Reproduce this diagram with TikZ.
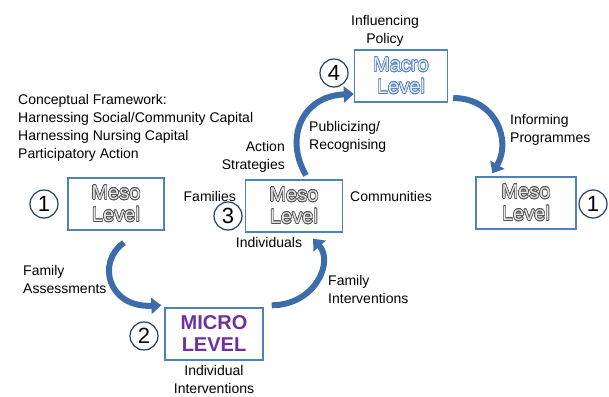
\documentclass[tikz,border=0pt]{standalone}
\usepackage{fontspec}
\setmainfont{Liberation Sans}
\usepackage[copies]{contour}
\usetikzlibrary{arrows.meta,calc}
\definecolor{boxblue}{HTML}{4F81BD}
\definecolor{arrowblue}{HTML}{3C6DAA}
\definecolor{circblue}{HTML}{243F60}
\definecolor{microp}{HTML}{7030A0}
\definecolor{mesogray}{HTML}{505050}
\definecolor{macroblue}{HTML}{4F7FBF}
\newcommand{\mesotxt}[1]{\contourlength{0.6pt}\contour{mesogray}{\textcolor{white!80!gray}{#1}}}
\newcommand{\macrotxt}[1]{\contourlength{0.6pt}\contour{macroblue}{\textcolor{white!85!boxblue}{#1}}}
\tikzset{
  lvl/.style={draw=boxblue,line width=1.4pt,fill=white,minimum width=96pt,minimum height=52pt,align=center,font=\fontsize{20}{22}\selectfont,inner sep=0pt},
  num/.style={draw=circblue,line width=1.2pt,circle,minimum size=28pt,inner sep=0pt,font=\fontsize{22}{22}\selectfont},
  lab/.style={font=\fontsize{14}{18}\selectfont,inner sep=0pt},
  flow/.style={draw=arrowblue,line width=6pt,-{Triangle[width=16pt,length=10pt]}}
}
\begin{document}
\begin{tikzpicture}[x=1pt,y=-1pt]
\useasboundingbox (0,0) rectangle (609,396);
% boxes
\node[lvl] (meso1) at (116,204) {\mesotxt{Meso}\\\mesotxt{Level}};
\node[lvl,minimum width=98pt] (micro) at (214,334) {\textcolor{microp}{\bfseries MICRO}\\\textcolor{microp}{\bfseries LEVEL}};
\node[lvl,minimum width=97pt] (meso3) at (294,206) {\mesotxt{Meso}\\\mesotxt{Level}};
\node[lvl,minimum width=93pt] (macro) at (401,76) {\macrotxt{Macro}\\\macrotxt{Level}};
\node[lvl,minimum width=100pt] (meso5) at (526,203) {\mesotxt{Meso}\\\mesotxt{Level}};
% numbers
\node[num] (n1) at (44,204) {1};
\node[num] (n2) at (144,336) {2};
\node[num] (n3) at (228,216) {3};
\node[num] (n4) at (334,73) {4};
\node[num] (n5) at (593,204) {1};
% labels
\node[lab,anchor=west,align=left] (cf) at (18,128) {Conceptual Framework:\\Harnessing Social/Community Capital\\Harnessing Nursing Capital\\Participatory Action};
\node[lab,anchor=east,align=right] (as) at (285,157) {Action\\Strategies};
\node[lab,anchor=east] (fam) at (236,196) {Families};
\node[lab,anchor=west] (com) at (350,196) {Communities};
\node[lab] (ind) at (269,242) {Individuals};
\node[lab,anchor=west,align=left] (pub) at (309,137) {Publicizing/\\Recognising};
\node[lab,align=center] (inf) at (385,31) {Influencing\\Policy};
\node[lab,anchor=west,align=left] (prog) at (510,130) {Informing\\Programmes};
\node[lab,anchor=west,align=left] (fa) at (23,279) {Family\\Assessments};
\node[lab,anchor=west,align=left] (fi) at (328,289) {Family\\Interventions};
\node[lab,align=center] (ii) at (214,379) {Individual\\Interventions};
% arrow end points
\coordinate (a1s) at ($(meso1.south)+(8,12)$);
\coordinate (a1e) at ($(micro.north west)+(-3,-2)$);
\coordinate (a2s) at ($(micro.north east)+(8,-2)$);
\coordinate (a2e) at ($(meso3.south)+(19,6)$);
\coordinate (a3s) at ($(meso3.north)+(12,-4)$);
\coordinate (a3e) at ($(macro.west)+(0,18)$);
\coordinate (a4s) at ($(macro.east)+(5,22)$);
\coordinate (a4e) at ($(meso5.north west)+(17,-3)$);
% arrows
\draw[flow] (a1s) .. controls (96,262) and (108,308) .. (a1e);
\draw[flow] (a2s) .. controls (315,305) and (334,262) .. (a2e);
\draw[flow] (a3s) .. controls (284,138) and (302,96) .. (a3e);
\draw[flow] (a4s) .. controls (495,98) and (512,140) .. (a4e);
\end{tikzpicture}
\end{document}
